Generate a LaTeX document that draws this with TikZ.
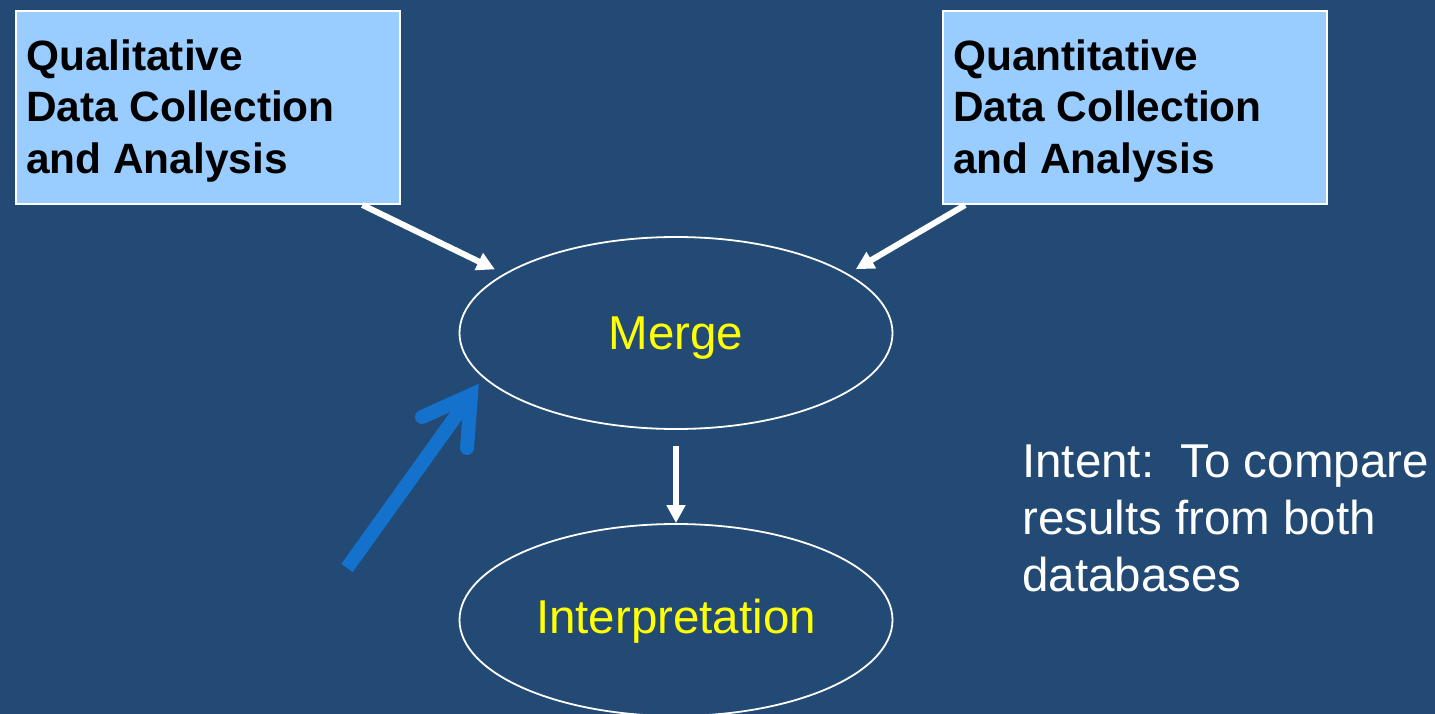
\documentclass[tikz,border=0pt]{standalone}
\usepackage{fontspec}
\setmainfont{Liberation Sans}
\usetikzlibrary{shapes.geometric,arrows.meta,calc}
\definecolor{bg}{RGB}{34,74,117}
\definecolor{boxfill}{RGB}{153,204,255}
\definecolor{bluearrow}{RGB}{20,113,204}
\definecolor{ylw}{RGB}{255,255,0}
\begin{document}
\begin{tikzpicture}[x=1pt,y=-1pt,
  box/.style={draw=white,line width=2pt,fill=boxfill,minimum width=384pt,minimum height=193pt,inner sep=0pt,anchor=north west},
  boxtext/.style={font=\fontsize{42.4}{51.5}\selectfont\bfseries,align=left,inner sep=0pt,anchor=north west,text=black},
  oval/.style={ellipse,draw=white,line width=1.8pt,minimum width=433pt,minimum height=192pt,inner sep=0pt,text=ylw,font=\fontsize{47.5}{55}\selectfont},
  flow/.style={draw=white,line width=6pt,-{Triangle[length=18pt,width=18pt]}},
  note/.style={font=\fontsize{47.5}{57}\selectfont,align=left,inner sep=0pt,anchor=north west,text=white},
  bigarrow/.style={draw=bluearrow,line width=14pt}
]
\fill[bg] (0,0) rectangle (1435,714);
\useasboundingbox (0,0) rectangle (1435,714);

\node[box] (qualbox) at (15,10) {};
\node[box] (quanbox) at (942,10) {};
\node[boxtext] (qualtext) at (26,39.3) {Qualitative\\Data Collection\\and Analysis};
\node[boxtext] (quantext) at (953,39.3) {Quantitative\\Data Collection\\and Analysis};

\node[oval,text height=33pt,text depth=0pt] (merge) at (676,333) {Merge};
\node[oval,text height=34pt,text depth=8pt] (interp) at (676,620) {Interpretation};

\draw[flow,shorten >=10pt] ($(qualbox.south west)!0.9!(qualbox.south east)$) -- (merge.161);
\draw[flow,shorten >=9pt] ($(quanbox.south west)!0.06!(quanbox.south east)$) -- (merge.19);
\draw[flow,shorten <=16pt] (merge.south) -- (interp.north);

\coordinate (bluetail) at (347,568);
\coordinate (bluevertex) at (471,395);
\coordinate (bluearmA) at (422,417);
\coordinate (bluearmB) at (467,448);
\draw[bigarrow] (bluetail) -- (bluevertex);
\draw[bigarrow,line cap=round,line join=miter] (bluearmA) -- (bluevertex) -- (bluearmB);

\node[note] (intent) at (1022,445) {Intent:\ \ To compare\\results from both\\databases};
\end{tikzpicture}
\end{document}
